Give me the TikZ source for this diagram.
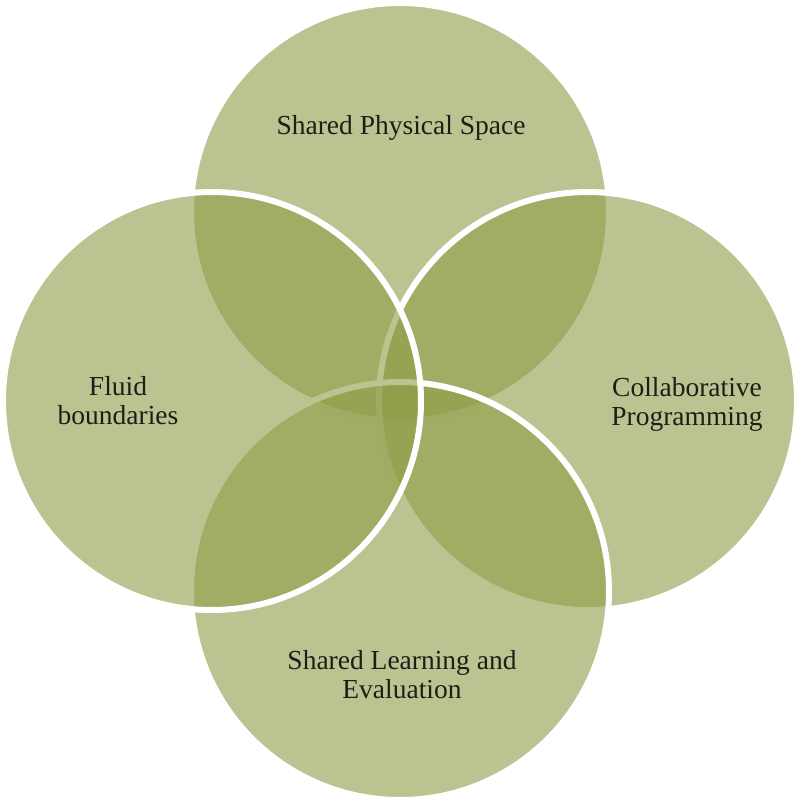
\documentclass[tikz,border=0pt]{standalone}
\usepackage{fontspec}
\setmainfont{Liberation Serif}
\definecolor{venncol}{RGB}{142,157,70}
\definecolor{textcol}{RGB}{28,30,24}
\tikzset{
  venn/.style={circle, inner sep=0pt, minimum size=418pt, fill=venncol, fill opacity=0.6, draw=white, draw opacity=1, line width=6pt},
  lbl/.style={align=center, text=textcol, font=\fontsize{27.5}{29}\selectfont, inner sep=0pt}
}
\begin{document}
\begin{tikzpicture}[x=1pt,y=-1pt]
\useasboundingbox (0,0) rectangle (800,803);
\node[venn] (ctop) at (400,212) {};
\node[venn] (cright) at (588,401) {};
\node[venn] (cbottom) at (400,591) {};
\node[venn] (cleft) at (212,401) {};
\node[lbl] (ttop) at (401,128) {Shared Physical Space};
\node[lbl] (tleft) at (118,401) {Fluid\\boundaries};
\node[lbl] (tright) at (687,404) {Collaborative\\Programming};
\node[lbl] (tbottom) at (402,675) {Shared Learning and\\Evaluation};
\end{tikzpicture}
\end{document}
